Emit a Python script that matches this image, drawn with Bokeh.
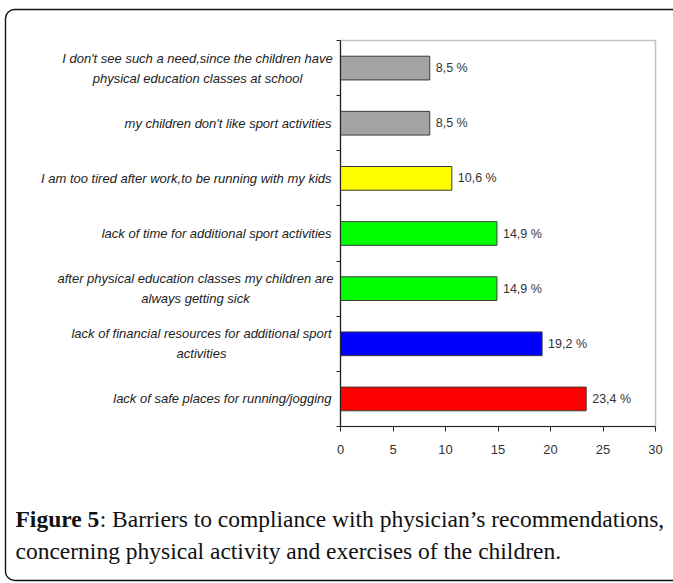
from bokeh.plotting import figure
from bokeh.models import Range1d, FixedTicker, LinearAxis, BoxAnnotation, ColumnDataSource
from bokeh.core.properties import value
from bokeh.embed import file_html
from bokeh.resources import INLINE

# ---- data -------------------------------------------------------------
categories = [
    "I don't see such a need,since the children have\nphysical education classes at school",
    "my children don't like sport activities",
    "I am too tired after work,to be running with my kids",
    "lack of time for additional sport activities",
    "after physical education classes my children are\nalways getting sick",
    "lack of financial resources for additional sport\nactivities",
    "lack of safe places for running/jogging",
]
percent = [8.5, 8.5, 10.6, 14.9, 14.9, 19.2, 23.4]
bar_colors = ["#a3a3a3", "#a3a3a3", "#ffff00", "#00ff00", "#00ff00", "#0000ff", "#ff0000"]
x_ticks = [0, 5, 10, 15, 20, 25, 30]

caption_bold = "Figure 5"
caption_line1 = ": Barriers to compliance with physician\u2019s recommendations,"
caption_line2 = "concerning physical activity and exercises of the children."

# ---- page geometry (pixels) ------------------------------------------
W, H = 673, 583
PLOT_L, PLOT_R, PLOT_T, PLOT_B = 340, 655, 40, 426
X_MAX = x_ticks[-1]
N = len(categories)
PX_X = (PLOT_R - PLOT_L) / X_MAX      # pixels per percent
PX_Y = (PLOT_B - PLOT_T) / N          # pixels per category row

CHART_FONT = "Liberation Sans"


def dx(px):
    """screen x (px from left) -> data x"""
    return (px - PLOT_L) / PX_X


def dy(py):
    """screen y (px from top) -> data y"""
    return (PLOT_B - py) / PX_Y


# the frame fills the whole canvas; the chart area is the data box [0,30]x[0,N]
p = figure(
    width=W, height=H,
    x_range=Range1d(dx(0), dx(W)), y_range=Range1d(dy(H), dy(0)),
    x_axis_type=None, y_axis_type=None,
    output_backend="svg", toolbar_location=None,
    min_border=0, outline_line_color=None,
    background_fill_color="white", border_fill_color="white",
)
p.grid.visible = False

ys = [N - i - 0.5 for i in range(N)]
src = ColumnDataSource(dict(
    y=ys, pct=percent, color=bar_colors,
    label=[f"{v:.1f}".replace(".", ",") + " %" for v in percent],
))

# light frame around the chart area (left/bottom covered by the axes)
p.add_layout(BoxAnnotation(left=0, right=X_MAX, bottom=0, top=N, level="underlay",
                           fill_color=None, fill_alpha=0,
                           line_color="#c2c2c2", line_alpha=1, line_width=1.5))

p.hbar(y="y", left=0, right="pct", height=0.43, source=src,
       fill_color="color", line_color="#3c3c3c", line_width=1)

p.text(x="pct", y="y", text="label", source=src, x_offset=6,
       text_baseline="middle", text_align="left",
       text_font=value(CHART_FONT), text_font_size="12.5px", text_color="#333333")

# axes pinned to the chart's zero lines
xa = LinearAxis(fixed_location=0, bounds=(0, X_MAX), ticker=FixedTicker(ticks=x_ticks))
xa.axis_line_color = "#222222"
xa.axis_line_width = 1.2
xa.major_tick_line_color = "#222222"
xa.major_tick_out = 5
xa.major_tick_in = 0
xa.minor_tick_line_color = None
xa.major_label_standoff = 13
xa.major_label_text_font = CHART_FONT
xa.major_label_text_font_size = "13px"
xa.major_label_text_color = "#333333"
p.add_layout(xa, "below")

# y axis: no labels, only the marks between category rows
ya = LinearAxis(fixed_location=0, bounds=(0, N),
                ticker=FixedTicker(ticks=[], minor_ticks=list(range(N + 1))))
ya.axis_line_color = "#222222"
ya.axis_line_width = 1.2
ya.major_tick_line_color = None
ya.minor_tick_line_color = "#222222"
ya.minor_tick_line_width = 1
ya.minor_tick_out = 4
ya.minor_tick_in = 0
p.add_layout(ya, "left")

# category labels: single lines right-aligned, wrapped ones centred line by line
LABEL_RIGHT = 331
LINE_GAP = 20
wrap_centres = {0: 197, 4: 195, 5: 201}
right_x, right_y, right_t = [], [], []
ctr_x, ctr_y, ctr_t = [], [], []
for i, (cat, y) in enumerate(zip(categories, ys)):
    lines = cat.split("\n")
    if len(lines) == 1:
        right_x.append(dx(LABEL_RIGHT)); right_y.append(y); right_t.append(cat)
    else:
        k = len(lines)
        for j, line in enumerate(lines):
            off = (j - (k - 1) / 2) * LINE_GAP
            ctr_x.append(dx(wrap_centres[i])); ctr_y.append(y - off / PX_Y); ctr_t.append(line)

label_style = dict(text_baseline="middle", text_font=value(CHART_FONT),
                   text_font_style="italic", text_font_size="13px", text_color="#222222")
p.text(x=right_x, y=right_y, text=right_t, text_align="right", **label_style)
p.text(x=ctr_x, y=ctr_y, text=ctr_t, text_align="center", **label_style)

# caption
CAP_X = 15
CAP_SIZE = 23.5
BOLD_W = 3.583 * CAP_SIZE   # advance of the bold lead-in
cap_style = dict(text_baseline="alphabetic", text_align="left",
                 text_font=value("Liberation Serif"), text_font_size=f"{CAP_SIZE}px",
                 text_color="#111111")
p.text(x=[dx(CAP_X)], y=[dy(518)], text=[caption_bold], text_font_style="bold", **cap_style)
p.text(x=[dx(CAP_X + BOLD_W)], y=[dy(518)], text=[caption_line1], **cap_style)
p.text(x=[dx(CAP_X)], y=[dy(550)], text=[caption_line2], **cap_style)

# rounded outer border
p.add_layout(BoxAnnotation(left=dx(5), right=dx(700), top=dy(9), bottom=dy(580),
                           fill_color=None, fill_alpha=0, line_color="#111111",
                           line_alpha=1, line_width=1.4, border_radius=9))

open("out.html", "w").write(file_html(p, INLINE))
